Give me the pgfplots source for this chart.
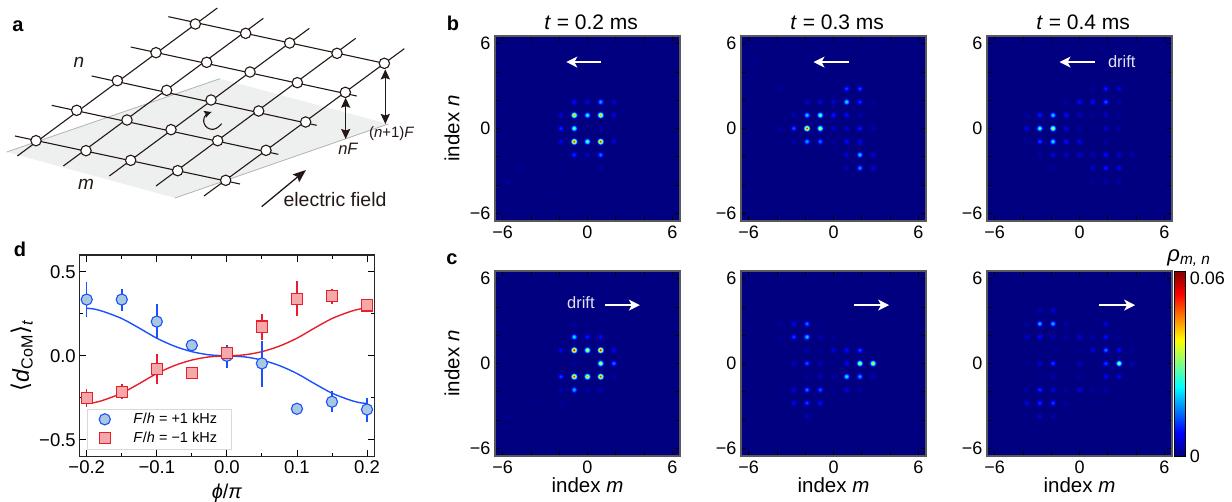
\documentclass[border=0pt]{standalone}
\usepackage{fontspec}
\setmainfont{Liberation Sans}
\newfontfamily\djv{DejaVu Sans}
\usepackage{pgfplots}
\usepackage{pgfplotstable}
\usetikzlibrary{arrows.meta}
\pgfplotsset{compat=1.18}
\newcommand{\fs}[1]{\fontsize{#1}{#1}\selectfont}
\definecolor{navy0}{RGB}{0,0,128}
\definecolor{ink}{RGB}{35,24,21}
\definecolor{plane}{RGB}{238,240,239}
\definecolor{bluL}{RGB}{26,80,255}
\definecolor{bluF}{RGB}{168,200,222}
\definecolor{redL}{RGB}{232,30,42}
\definecolor{redF}{RGB}{244,168,170}
\definecolor{driftc}{RGB}{225,225,240}
\pgfplotsset{
  spot/.style={scatter,only marks,mark=*,mark size=#1pt,scatter src=explicit,
    mark options={draw opacity=0},
    scatter/use mapped color={draw=mapped color,fill=mapped color}},
  panel/.style={scale only axis,width=185pt,height=185pt,xmin=-7,xmax=7,ymin=-7,ymax=7,
    clip=true,
    xtick={-6.42,-4.28,-2.14,0,2.14,4.28,6.42},xticklabels={−6,,,0,,,6},
    ytick={-6.42,-4.28,-2.14,0,2.14,4.28,6.42},yticklabels={−6,,,0,,,6},
    tick align=inside,major tick length=5pt,
    tick style={black,line width=0.8pt},
    axis line style={draw=black!65,line width=1.1pt},
    axis background/.style={fill=navy0},
    colormap/jet,point meta min=0,point meta max=1,
    tick label style={font=\fs{18}},
    xticklabel style={yshift=-1pt},
    yticklabel style={xshift=-1pt},
    every axis x label/.style={at={(axis description cs:0.5,-0.155)},anchor=center,font=\fs{20.5}},
    every axis y label/.style={at={(axis description cs:-0.232,0.5)},anchor=center,rotate=90,font=\fs{20.5}},
    every axis title/.style={at={(axis description cs:0.52,1.076)},anchor=center,font=\fs{21}},
  },
  arw/.style={white,line width=1.3pt,-{Stealth[length=11pt,width=11pt,inset=3pt]}},
  gridl/.style={ink,line width=1.1pt},
  dblarw/.style={ink,line width=1.6pt,{Stealth[length=10pt,width=9pt,inset=1.5pt]}-{Stealth[length=10pt,width=9pt,inset=1.5pt]}},
}
\newcommand{\spots}[1]{%
  \addplot[spot=3.8] table[x=m,y=n,meta expr=0.12*\thisrow{v}] {#1};
  \addplot[spot=3.2] table[x=m,y=n,meta expr=0.28*\thisrow{v}] {#1};
  \addplot[spot=2.6] table[x=m,y=n,meta expr=0.48*\thisrow{v}] {#1};
  \addplot[spot=2.0] table[x=m,y=n,meta expr=0.68*\thisrow{v}] {#1};
  \addplot[spot=1.4] table[x=m,y=n,meta expr=0.85*\thisrow{v}] {#1};
  \addplot[spot=0.8] table[x=m,y=n,meta expr=\thisrow{v}] {#1};
}
\pgfplotstableread[row sep=\\]{
m n v\\
-1 2 .14\\ 0 2 .10\\ 1 2 .30\\ 2 2 .08\\
-2 1 .10\\ -1 1 .72\\ 0 1 .42\\ 1 1 .72\\ 2 1 .10\\
-2 0 .18\\ -1 0 .50\\ 1 0 .05\\
-2 -1 .10\\ -1 -1 .85\\ 0 -1 .50\\ 1 -1 .85\\ 2 -1 .10\\
-1 -2 .18\\ 0 -2 .08\\ 1 -2 .25\\
1 -3 .05\\ -5 -3 .03\\ -4 -3 .02\\ -2 -3 .02\\
-6 -4 .04\\ -5 -4 .02\\ -3 -5 .02\\ -6 -6 .02\\ -5 -6 .02\\
}\tbone
\pgfplotstableread[row sep=\\]{
m n v\\
1 3 .20\\ 2 3 .20\\ -4 3 .03\\
-2 2 .08\\ -1 2 .10\\ 0 2 .10\\ 1 2 .38\\ 2 2 .18\\ 3 2 .03\\
-3 1 .06\\ -2 1 .35\\ -1 1 .50\\ 0 1 .16\\ 1 1 .14\\ 2 1 .05\\
-4 0 .04\\ -3 0 .22\\ -2 0 .85\\ -1 0 .60\\ 0 0 .08\\ 1 0 .08\\ 2 0 .16\\ 3 0 .06\\
-3 -1 .05\\ -2 -1 .30\\ -1 -1 .25\\ 0 -1 .03\\ 1 -1 .14\\ 2 -1 .12\\
1 -2 .10\\ 2 -2 .35\\ 3 -2 .10\\
1 -3 .06\\ 2 -3 .28\\ 3 -3 .10\\
-6 5 .02\\ -6 4 .02\\
}\tbtwo
\pgfplotstableread[row sep=\\]{
m n v\\
1 3 .03\\ 2 3 .16\\ 3 3 .10\\
-1 2 .04\\ 0 2 .14\\ 1 2 .14\\ 2 2 .22\\ 3 2 .05\\
-4 1 .04\\ -3 1 .16\\ -2 1 .35\\ -1 1 .14\\ 0 1 .08\\ 1 1 .03\\ 2 1 .08\\ 3 1 .03\\
-4 0 .12\\ -3 0 .45\\ -2 0 .60\\ -1 0 .10\\ 0 0 .05\\ 1 0 .02\\ 2 0 .08\\ 3 0 .05\\
-4 -1 .03\\ -3 -1 .20\\ -2 -1 .38\\ -1 -1 .14\\ 0 -1 .12\\ 2 -1 .03\\
-3 -2 .05\\ -2 -2 .10\\ -1 -2 .08\\ 0 -2 .10\\ 1 -2 .06\\ 2 -2 .14\\ 3 -2 .09\\ 4 -2 .06\\
-2 -3 .03\\ 1 -3 .10\\ 2 -3 .16\\ 3 -3 .12\\
1 -4 .03\\ 2 -4 .05\\ 3 -4 .05\\
}\tbthree
\pgfplotstableread[row sep=\\]{
m n v\\
-1 3 .03\\
-1 2 .38\\ 0 2 .16\\ 1 2 .14\\
-2 1 .12\\ -1 1 .90\\ 0 1 .62\\ 1 1 .90\\ 2 1 .12\\
-1 0 .03\\ 1 0 .60\\ 2 0 .25\\
-2 -1 .20\\ -1 -1 .85\\ 0 -1 .72\\ 1 -1 .85\\ 2 -1 .05\\
-2 -2 .06\\ -1 -2 .32\\ 0 -2 .05\\ 1 -2 .06\\
-2 -3 .03\\ -4 -3 .02\\ -6 -4 .03\\
}\tcone
\pgfplotstableread[row sep=\\]{
m n v\\
-4 3 .04\\ -3 3 .12\\ -2 3 .25\\ -1 3 .02\\
-4 2 .03\\ -3 2 .20\\ -2 2 .35\\ -1 2 .06\\ 0 2 .03\\
-2 1 .05\\ -1 1 .02\\ 0 1 .10\\ 1 1 .14\\ 2 1 .20\\
-3 0 .07\\ -2 0 .22\\ -1 0 .07\\ 1 0 .12\\ 2 0 .60\\ 3 0 .62\\ 4 0 .02\\
-2 -1 .03\\ -1 -1 .08\\ 0 -1 .04\\ 1 -1 .40\\ 2 -1 .30\\ 3 -1 .07\\
-4 -2 .02\\ -3 -2 .10\\ -2 -2 .25\\ -1 -2 .22\\ 0 -2 .02\\ 1 -2 .10\\ 2 -2 .05\\
-3 -3 .12\\ -2 -3 .20\\ -1 -3 .14\\
-2 -4 .07\\
}\tctwo
\pgfplotstableread[row sep=\\]{
m n v\\
-3 4 .06\\ -2 4 .10\\
-4 3 .03\\ -3 3 .32\\ -2 3 .32\\ -1 3 .05\\ 2 3 .10\\
-4 2 .08\\ -3 2 .14\\ -2 2 .06\\ -1 2 .04\\ 0 2 .10\\ 1 2 .05\\ 2 2 .14\\ 3 2 .03\\
-2 1 .02\\ 0 1 .02\\ 1 1 .10\\ 2 1 .25\\ 3 1 .14\\ 4 1 .03\\
-4 0 .02\\ -3 0 .10\\ -2 0 .20\\ -1 0 .02\\ 0 0 .08\\ 2 0 .20\\ 3 0 .55\\ 4 0 .06\\
-3 -1 .03\\ -2 -1 .05\\ 0 -1 .04\\ 2 -1 .12\\ 3 -1 .12\\
-4 -2 .05\\ -3 -2 .18\\ -2 -2 .10\\ -1 -2 .03\\ 0 -2 .10\\ 1 -2 .03\\ 2 -2 .04\\
-4 -3 .10\\ -3 -3 .18\\ -2 -3 .20\\ -1 -3 .04\\ 1 -3 .02\\
-4 -4 .02\\ -3 -4 .08\\ -2 -4 .05\\
}\tcthree
\pgfplotstableread[row sep=\\]{
x y ep em\\
-0.20 0.335 .105 .105\\
-0.15 0.335 .065 .068\\
-0.10 0.204 .106 .104\\
-0.05 0.063 .008 .008\\
0.00 0.000 .067 .070\\
0.05 -0.045 .132 .139\\
0.10 -0.315 .008 .008\\
0.15 -0.273 .063 .064\\
0.20 -0.319 .071 .077\\
}\tblue
\pgfplotstableread[row sep=\\]{
x y ep em\\
-0.20 -0.250 .052 .053\\
-0.15 -0.216 .046 .041\\
-0.10 -0.077 .091 .093\\
-0.05 -0.103 .008 .008\\
0.00 0.018 .012 .012\\
0.05 0.174 .076 .081\\
0.10 0.340 .104 .104\\
0.15 0.356 .044 .045\\
0.20 0.300 .008 .008\\
}\tred
\begin{document}
\begin{tikzpicture}
\path[use as bounding box] (0,0) rectangle (1232pt,501pt);
% panel a
\begin{axis}[at={(0pt,276pt)},anchor=south west,scale only axis,width=440pt,height=225pt,
  xmin=0,xmax=1320,ymin=0,ymax=675,y dir=reverse,hide axis,clip=false]
\addplot[fill=plane,draw=none] coordinates {(20,456) (660,236) (1165,372) (525,594)} -- cycle;
\addplot[black!30,line width=0.8pt] coordinates {(20,456) (660,236)};
\addplot[black!30,line width=0.8pt] coordinates {(525,594) (1165,372)};
\addplot[gridl] coordinates {(45,408) (720,552)};
\addplot[gridl] coordinates {(155,316) (835,463)};
\addplot[gridl] coordinates {(275,228) (950,376)};
\addplot[gridl] coordinates {(392,141) (1070,288)};
\addplot[gridl] coordinates {(505,50) (1153,190)};
\addplot[gridl] coordinates {(52,468) (652,24)};
\addplot[gridl] coordinates {(190,498) (790,55)};
\addplot[gridl] coordinates {(328,528) (928,85)};
\addplot[gridl] coordinates {(468,558) (1067,115)};
\addplot[gridl] coordinates {(612,588) (1213,146)};
\addplot[only marks,mark=*,mark size=5.2pt,mark options={fill=white,draw=ink,line width=1.1pt}] coordinates {
 (108,422) (258,452) (392,481) (533,512) (677,541)
 (230,331) (381,360) (513,389) (653,422) (798,451)
 (352,242) (500,271) (633,300) (776,333) (917,366)
 (468,158) (620,187) (750,216) (892,248) (1036,277)
 (586,72) (737,100) (869,129) (1011,160) (1153,190)};
\addplot[dblarw] coordinates {(1156,208) (1156,372)};
\addplot[dblarw] coordinates {(1037,293) (1037,417)};
\addplot[ink,line width=1.3pt,-{Stealth[length=13pt,width=10pt,inset=2pt]}] coordinates {(785,620) (918,510)};
\addplot[ink,line width=1.1pt,smooth,-{Stealth[length=7pt,width=7pt,inset=1pt]}] coordinates {(665,371) (653.7,381.9) (641.5,387.6) (628.1,386.4) (617.1,378.7) (611.4,366.5) (612.6,353.1) (620.3,342.1) (634,336)};
\node[ink,font=\fs{19}\itshape] at (axis cs:237,187) {n};
\node[ink,font=\fs{19}\itshape] at (axis cs:258,553) {m};
\node[ink,font=\fs{15}] at (axis cs:1175,400) {(\textit{n}+1)\textit{F}};
\node[ink,font=\fs{16.5}] at (axis cs:1045,447) {\textit{nF}};
\node[ink,font=\fs{19.5}] at (axis cs:1005,598) {electric field};
\end{axis}
% panel d
\begin{axis}[at={(79.3pt,44.3pt)},anchor=south west,scale only axis,width=295.4pt,height=201.7pt,
  xmin=-0.2106,xmax=0.211,ymin=-0.6,ymax=0.6,
  xtick={-0.2,-0.1,0,0.1,0.2},xticklabels={−0.2,−0.1,0.0,0.1,0.2},
  ytick={-0.5,0,0.5},yticklabels={−0.5,0.0,0.5},
  minor xtick={-0.15,-0.05,0.05,0.15},minor ytick={-0.25,0.25},
  tick align=inside,major tick length=7pt,minor tick length=4pt,
  tick style={black,line width=0.8pt},
  axis line style={draw=black!85,line width=1.1pt},
  tick label style={font=\fs{18.5}},
  xlabel={\textit{ϕ}/\textit{π}},ylabel={{\djv ⟨}\textit{d}\textsubscript{CoM}{\djv ⟩}\textsubscript{\textit{t}}},
  every axis x label/.style={at={(axis description cs:0.5,-0.18)},anchor=center,font=\fs{20}},
  every axis y label/.style={at={(axis description cs:-0.194,0.5)},anchor=center,rotate=90,font=\fs{23}},
  legend style={at={(axis description cs:0.026,0.038)},anchor=south west,draw=black!15,fill=white,
    font=\fs{14.5},inner xsep=12pt,inner ysep=2.5pt,row sep=3pt,/tikz/every even column/.append style={column sep=2pt}},
  legend cell align=left,
]
\addplot[bluL,line width=1.4pt,smooth,forget plot] coordinates {
 (-0.2,.283) (-0.19,.279) (-0.175,.262) (-0.15,.222) (-0.125,.165) (-0.1,.105) (-0.075,.058) (-0.05,.025) (-0.025,.006) (0,0)
 (0.025,-.006) (0.05,-.025) (0.075,-.058) (0.1,-.105) (0.125,-.165) (0.15,-.222) (0.175,-.262) (0.19,-.279) (0.2,-.283)};
\addplot[redL,line width=1.4pt,smooth,forget plot] coordinates {
 (-0.2,-.283) (-0.19,-.279) (-0.175,-.262) (-0.15,-.222) (-0.125,-.165) (-0.1,-.105) (-0.075,-.058) (-0.05,-.025) (-0.025,-.006) (0,0)
 (0.025,.006) (0.05,.025) (0.075,.058) (0.1,.105) (0.125,.165) (0.15,.222) (0.175,.262) (0.19,.279) (0.2,.283)};
\addplot[only marks,mark=*,mark size=5.6pt,mark options={fill=bluF,draw=bluL,line width=1.1pt},
  error bars/.cd,y dir=both,y explicit,error mark=none,error bar style={bluL,line width=1.5pt}]
  table[x=x,y=y,y error plus=ep,y error minus=em] {\tblue};
\addlegendentry{\hspace{21pt}\textit{F}/\textit{h} = +1 kHz}
\addplot[only marks,mark=square*,mark size=5.6pt,mark options={fill=redF,draw=redL,line width=1.1pt},
  error bars/.cd,y dir=both,y explicit,error mark=none,error bar style={redL,line width=1.5pt}]
  table[x=x,y=y,y error plus=ep,y error minus=em] {\tred};
\addlegendentry{\hspace{21pt}\textit{F}/\textit{h} = −1 kHz}
\end{axis}
% row b
\begin{axis}[panel,at={(495pt,280pt)},anchor=south west,title={\textit{t} = 0.2 ms},ylabel={index \textit{n}}]
\spots{\tbone}
\addplot[arw] coordinates {(1.04,5.03) (-1.6,5.03)};
\end{axis}
\begin{axis}[panel,at={(741pt,280pt)},anchor=south west,title={\textit{t} = 0.3 ms}]
\spots{\tbtwo}
\addplot[arw] coordinates {(1.19,5.03) (-1.51,5.03)};
\end{axis}
\begin{axis}[panel,at={(987pt,280pt)},anchor=south west,title={\textit{t} = 0.4 ms}]
\spots{\tbthree}
\addplot[arw] coordinates {(1.14,5.03) (-1.51,5.03)};
\node[driftc,font=\fs{16.5}] at (axis cs:3.2,5.1) {drift};
\end{axis}
% row c
\begin{axis}[panel,at={(495pt,45pt)},anchor=south west,xlabel={index \textit{m}},ylabel={index \textit{n}}]
\spots{\tcone}
\addplot[arw] coordinates {(1.31,4.42) (3.96,4.42)};
\node[driftc,font=\fs{16.5}] at (axis cs:-0.5,4.6) {drift};
\end{axis}
\begin{axis}[panel,at={(741pt,45pt)},anchor=south west,xlabel={index \textit{m}}]
\spots{\tctwo}
\addplot[arw] coordinates {(1.56,4.42) (4.21,4.42)};
\end{axis}
\begin{axis}[panel,at={(987pt,45pt)},anchor=south west,xlabel={index \textit{m}},
  colorbar,
  colorbar shift/.style={xshift=2.6pt},
  colorbar style={at={(parent axis.north east)},anchor=north west,
    width=10.7pt,height=185pt,ytick={0,0.96},yticklabels={0,0.06},
    major tick length=0pt,tick label style={font=\fs{18}},
    axis line style={draw=black,line width=1pt},
    yticklabel style={xshift=1pt}}]
\spots{\tcthree}
\addplot[arw] coordinates {(1.51,4.42) (4.21,4.42)};
\end{axis}
\node[font=\fs{22}] at (1189pt,243pt) {\textit{ρ}\textsubscript{\textit{m, n}}};
\node[font=\bfseries\fs{20}] at (18pt,475pt) {a};
\node[font=\bfseries\fs{20}] at (453pt,478pt) {b};
\node[font=\bfseries\fs{20}] at (452pt,242pt) {c};
\node[font=\bfseries\fs{20}] at (20pt,252pt) {d};
\end{tikzpicture}
\end{document}
